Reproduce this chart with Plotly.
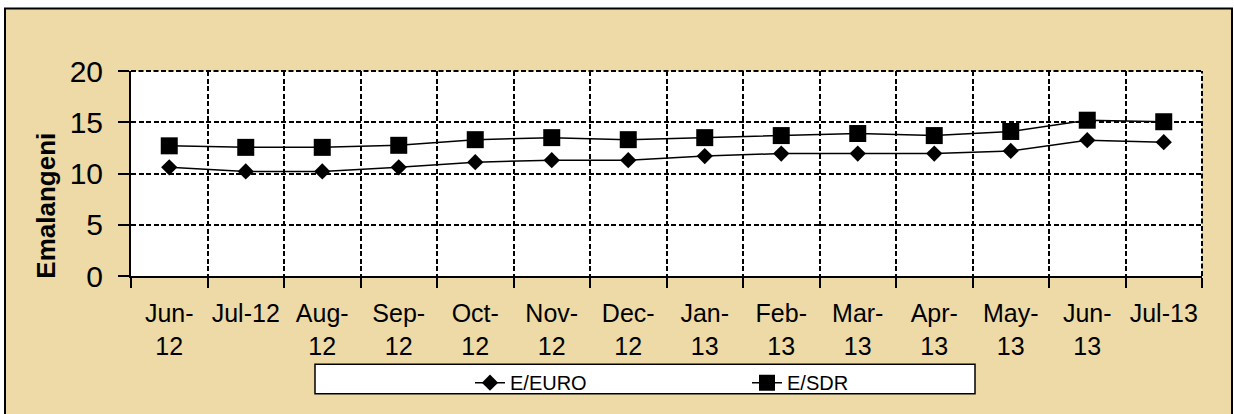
import plotly.graph_objects as go

months = ["Jun-<br>12", "Jul-12", "Aug-<br>12", "Sep-<br>12", "Oct-<br>12", "Nov-<br>12",
          "Dec-<br>12", "Jan-<br>13", "Feb-<br>13", "Mar-<br>13", "Apr-<br>13", "May-<br>13",
          "Jun-<br>13", "Jul-13"]
e_euro = [10.6, 10.2, 10.2, 10.6, 11.1, 11.3, 11.3, 11.7, 11.95, 11.95, 11.95, 12.2, 13.25, 13.05]
e_sdr = [12.7, 12.55, 12.55, 12.75, 13.3, 13.5, 13.3, 13.5, 13.7, 13.9, 13.7, 14.1, 15.2, 15.05]
y_ticks = [0, 5, 10, 15, 20]

W, H = 1234, 414
L, R, T, B = 131, 32, 71, 136
pw, ph = W - L - R, H - T - B

def px_x(p):
    return (p - L) / pw

def px_y(p):
    return (H - B - p) / ph

FONT = "Liberation Sans, Arial, sans-serif"
GRID_DASH = "5px,2.5px"

fig = go.Figure()
fig.add_trace(go.Scatter(x=months, y=e_euro, name="E/EURO", mode="lines+markers",
                         line=dict(color="black", width=1.5),
                         marker=dict(symbol="diamond", size=12.5, color="black")))
fig.add_trace(go.Scatter(x=months, y=e_sdr, name="E/SDR", mode="lines+markers",
                         line=dict(color="black", width=1.5),
                         marker=dict(symbol="square", size=17, color="black")))

shapes = [
    dict(type="rect", xref="paper", yref="paper", layer="below",
         x0=px_x(5), x1=px_x(1232), y0=px_y(425), y1=px_y(8),
         fillcolor="#EDDAA6", line=dict(color="black", width=2)),
    dict(type="rect", xref="paper", yref="paper", layer="below",
         x0=0, x1=1, y0=0, y1=1, fillcolor="white", line=dict(width=0)),
    dict(type="line", xref="paper", yref="paper", x0=1, x1=1, y0=0, y1=1,
         line=dict(color="black", width=2, dash=GRID_DASH)),
    dict(type="line", xref="paper", yref="paper", x0=0, x1=1, y0=1, y1=1,
         line=dict(color="black", width=2, dash=GRID_DASH)),
    dict(type="rect", xref="paper", yref="paper",
         x0=px_x(315), x1=px_x(975), y0=px_y(397), y1=px_y(367),
         fillcolor="white", line=dict(color="black", width=1.5), layer="below"),
]

annotations = [
    dict(text="<b>Emalangeni</b>", xref="paper", yref="paper", x=px_x(46), y=px_y(207),
         xanchor="center", yanchor="middle", textangle=-90, showarrow=False,
         font=dict(size=26, family=FONT, color="black")),
]

fig.update_layout(
    width=W, height=H,
    margin=dict(l=L, r=R, t=T, b=B),
    paper_bgcolor="white",
    plot_bgcolor="rgba(0,0,0,0)",
    font=dict(family=FONT, color="black"),
    shapes=shapes,
    annotations=annotations,
    showlegend=True,
    legend=dict(orientation="h", x=px_x(470), y=px_y(366), xanchor="left", yanchor="top",
                bgcolor="rgba(0,0,0,0)", borderwidth=0,
                font=dict(size=20, family=FONT), entrywidth=232, entrywidthmode="pixels"),
    xaxis=dict(type="category", tickson="boundaries", showgrid=True,
               gridcolor="black", griddash=GRID_DASH, gridwidth=2,
               ticks="outside", ticklen=10, tickcolor="black", tickwidth=2,
               showline=True, linecolor="black", linewidth=2,
               tickfont=dict(size=25, family=FONT), range=[-0.5, 13.5],
               tickangle=0, automargin=False, ticklabelstandoff=14),
    yaxis=dict(range=[0, 20], tickvals=y_ticks, showgrid=True,
               gridcolor="black", griddash=GRID_DASH, gridwidth=2,
               ticks="outside", ticklen=11, tickcolor="black", tickwidth=2,
               showline=True, linecolor="black", linewidth=2, zeroline=False,
               automargin=False,
               tickfont=dict(size=30, family=FONT), ticklabelstandoff=9),
)

fig.write_html("out.html", config={"displayModeBar": False},
               post_script="document.body.style.margin='0';")
